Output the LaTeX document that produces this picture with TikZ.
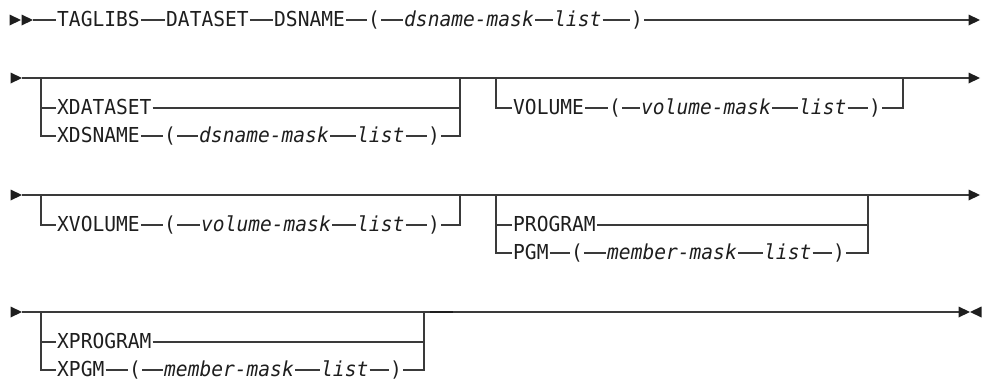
\documentclass[tikz,border=0pt]{standalone}
\usepackage{fontspec}
\newfontfamily\railfont[FakeStretch=0.95]{DejaVu Sans Mono}
\definecolor{ink}{HTML}{1E1E1E}
\definecolor{railc}{HTML}{3A3A3A}
\tikzset{
  rail/.style={draw=railc, line width=1.3pt},
  kw/.style={font=\railfont\fontsize{20.6}{24}\selectfont, text=ink,
             inner xsep=1pt, inner ysep=0pt, text height=15pt,
             text depth=3pt, anchor=west},
  var/.style={kw, font=\railfont\itshape\fontsize{20.6}{24}\selectfont},
  tipR/.pic={\fill[ink] (-11.5,-5.5) -- (0,0) -- (-11.5,5.5) -- cycle;},
  tipL/.pic={\fill[ink] (11.5,-5.5) -- (0,0) -- (11.5,5.5) -- cycle;}
}
\begin{document}
\begin{tikzpicture}[x=1pt,y=-1pt]
\useasboundingbox (0,0) rectangle (991,383);

% ---------- line 1 ----------
\node[kw]  (tag) at (56,20)  {TAGLIBS};
\node[kw]  (dat) at (165,20) {DATASET};
\node[kw]  (dsn) at (273,20) {DSNAME};
\node[kw]  (lp1) at (367,20) {(};
\node[var] (dm1) at (403,20) {dsname-mask};
\node[var] (li1) at (553,20) {list};
\node[kw]  (rp1) at (630,20) {)};
\coordinate (s1) at (33,20);
\coordinate (e1) at (974,20);
\draw[rail] (s1) -- (tag) -- (dat) -- (dsn) -- (lp1) -- (dm1) -- (li1) -- (rp1) -- (e1);
\pic at (21,20) {tipR};
\pic at (33,20) {tipR};
\pic at (980,20) {tipR};

% ---------- line 2 ----------
\coordinate (s2) at (22,78);
\coordinate (e2) at (974,78);
\draw[rail] (s2) -- (e2);
\pic at (22,78) {tipR};
\pic at (980,78) {tipR};

\coordinate (b1a) at (41,78);
\coordinate (b1z) at (460,78);
\node[kw]  (xdat) at (56,108)  {XDATASET};
\node[kw]  (xdsn) at (56,136)  {XDSNAME};
\node[kw]  (lp2)  at (163,136) {(};
\node[var] (dm2)  at (198,136) {dsname-mask};
\node[var] (li2)  at (356,136) {list};
\node[kw]  (rp2)  at (427,136) {)};
\draw[rail] (b1a) |- (xdsn);
\draw[rail] (b1a |- xdat) -- (xdat) -- (b1z |- xdat);
\draw[rail] (xdsn) -- (lp2) -- (dm2) -- (li2) -- (rp2) -| (b1z);

\coordinate (b2a) at (496,78);
\coordinate (b2z) at (903,78);
\node[kw]  (vol) at (512,108) {VOLUME};
\node[kw]  (lp3) at (608,108) {(};
\node[var] (vm1) at (640,108) {volume-mask};
\node[var] (li3) at (798,108) {list};
\node[kw]  (rp3) at (868,108) {)};
\draw[rail] (b2a) |- (vol);
\draw[rail] (vol) -- (lp3) -- (vm1) -- (li3) -- (rp3) -| (b2z);

% ---------- line 3 ----------
\coordinate (s3) at (22,195);
\coordinate (e3) at (974,195);
\draw[rail] (s3) -- (e3);
\pic at (22,195) {tipR};
\pic at (980,195) {tipR};

\coordinate (b3a) at (41,195);
\coordinate (b3z) at (460,195);
\node[kw]  (xvol) at (56,225)  {XVOLUME};
\node[kw]  (lp4)  at (163,225) {(};
\node[var] (vm2)  at (200,225) {volume-mask};
\node[var] (li4)  at (356,225) {list};
\node[kw]  (rp4)  at (427,225) {)};
\draw[rail] (b3a) |- (xvol);
\draw[rail] (xvol) -- (lp4) -- (vm2) -- (li4) -- (rp4) -| (b3z);

\coordinate (b4a) at (496,195);
\coordinate (b4z) at (868,195);
\node[kw]  (prog) at (512,225) {PROGRAM};
\node[kw]  (pgm)  at (512,253) {PGM};
\node[kw]  (lp5)  at (570,253) {(};
\node[var] (mm1)  at (606,253) {member-mask};
\node[var] (li5)  at (763,253) {list};
\node[kw]  (rp5)  at (832,253) {)};
\draw[rail] (b4a) |- (pgm);
\draw[rail] (b4a |- prog) -- (prog) -- (b4z |- prog);
\draw[rail] (pgm) -- (lp5) -- (mm1) -- (li5) -- (rp5) -| (b4z);

% ---------- line 4 ----------
\coordinate (s4) at (22,312);
\coordinate (e4) at (966,312);
\draw[rail] (s4) -- (e4);
\pic at (22,312) {tipR};
\pic at (970,312) {tipR};
\pic at (970,312) {tipL};

\coordinate (b5a) at (41,312);
\coordinate (b5z) at (424,312);
\node[kw]  (xprog) at (56,342)  {XPROGRAM};
\node[kw]  (xpgm)  at (56,370)  {XPGM};
\node[kw]  (lp6)   at (128,370) {(};
\node[var] (mm2)   at (163,370) {member-mask};
\node[var] (li6)   at (320,370) {list};
\node[kw]  (rp6)   at (389,370) {)};
\draw[rail] (b5a) |- (xpgm);
\draw[rail] (b5a |- xprog) -- (xprog) -- (b5z |- xprog);
\draw[rail] (xpgm) -- (lp6) -- (mm2) -- (li6) -- (rp6) -| (b5z);
\coordinate (k1) at (430,312);
\coordinate (k2) at (453,312);
\draw[ink, line width=2.2pt] (k1) -- (k2);
\end{tikzpicture}
\end{document}
